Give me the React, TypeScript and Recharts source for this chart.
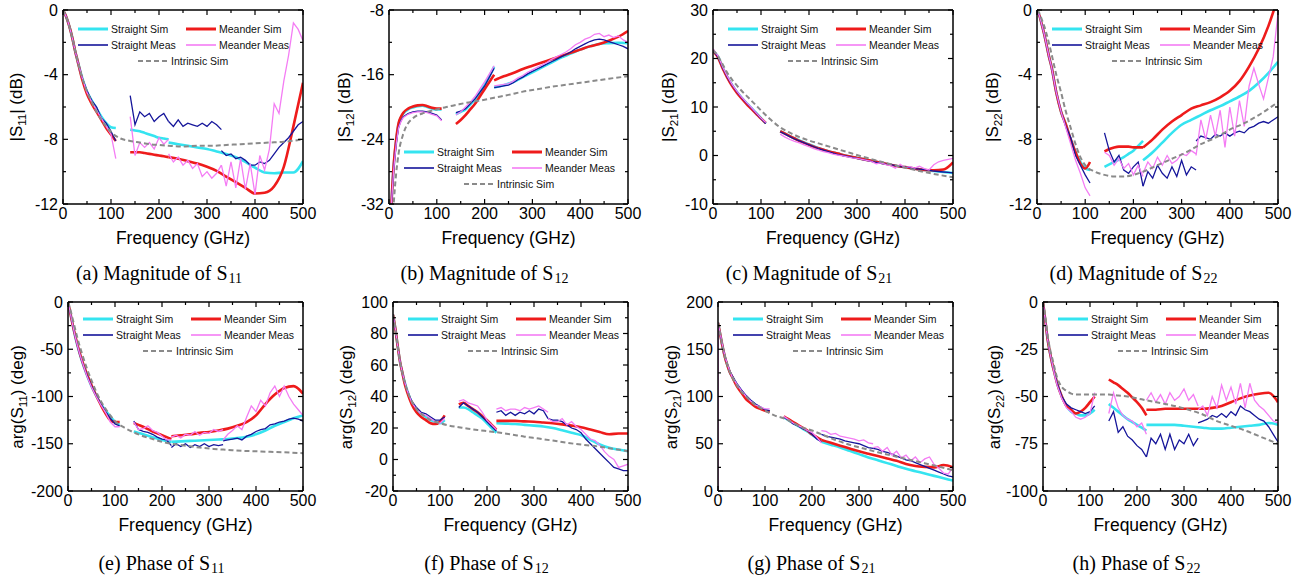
import React from "react";
import { LineChart, Line, XAxis, YAxis, ReferenceLine } from "recharts";

const SANS = '"Liberation Sans", Arial, Helvetica, sans-serif';
const SERIF = '"Liberation Serif", "Times New Roman", Times, serif';

// frequency grids (GHz)
const F_LOW = [0, 5, 10, 15, 20, 25, 30, 40, 50, 60, 70, 80, 90, 100, 110];
const F_MID = [140, 150, 160, 170, 180, 190, 200, 210, 220];
const F_HIGH = [220, 240, 260, 280, 300, 320, 340, 360, 380, 400, 420, 440, 460, 480, 500];
const F_M3 = [220, 230, 240, 250, 260, 270, 280, 290, 300, 310, 320, 330];
const F_M4 = [330, 340, 350, 360, 370, 380, 390, 400, 410, 420, 430, 440, 450, 460, 470, 480, 490, 500];
const F_INT = [0, 5, 10, 15, 20, 30, 40, 50, 60, 70, 80, 90, 100, 120, 140, 160, 180, 200, 220, 250, 280, 310, 340, 370, 400, 430, 460, 500];
const F_SPIKE = [0, 0.6];

const X_TICKS = [0, 50, 100, 150, 200, 250, 300, 350, 400, 450, 500];

type Vals = (number | null)[];
type Sim = { low: Vals; mid: Vals; high: Vals };
type Meas = { low: Vals; mid: Vals; m3: Vals; m4: Vals; spike?: Vals };

// (a) |S11| dB
const A_SS: Sim = {
  low: [0, -0.3, -0.7, -1.2, -1.8, -2.5, -3.1, -4.2, -5.05, -5.6, -6.1, -6.6, -7.0, -7.25, -7.3],
  mid: [-7.4, -7.45, -7.5, -7.6, -7.7, -7.8, -7.9, -7.95, -8.0],
  high: [-8.2, -8.3, -8.4, -8.5, -8.6, -8.75, -8.9, -9.1, -9.4, -9.75, -10.05, -10.1, -10.05, -10.05, -9.35],
};
const A_MS: Sim = {
  low: [0, -0.3, -0.7, -1.2, -1.8, -2.5, -3.1, -4.3, -5.2, -5.8, -6.3, -6.8, -7.3, -7.7, -8.1],
  mid: [-8.8, -8.8, -8.8, -8.85, -8.9, -8.95, -9.0, -9.05, -9.1],
  high: [-9.1, -9.2, -9.35, -9.5, -9.7, -9.95, -10.3, -10.65, -11.0, -11.35, -11.3, -10.9, -9.7, -7.2, -4.5],
};
const A_SM: Meas = {
  low: [0, -0.3, -0.7, -1.2, -1.8, -2.5, -3.1, -4.2, -5.0, -5.6, -6.0, -6.7, -7.0, -7.5, -8.1],
  mid: [-5.3, -7.1, -6.3, -6.6, -6.4, -6.9, -6.6, -6.4, -6.9],
  m3: [-6.9, -7.2, -6.8, -7.2, -7.0, -7.1, -7.2, -7.0, -7.2, -6.9, -7.1, -7.4],
  m4: [-8.7, -9.0, -8.9, -9.2, -9.1, -9.3, -9.6, -9.6, -9.4, -9.5, -9.3, -8.9, -8.5, -8.2, -7.9, -7.5, -7.1, -6.9],
};
const A_MM: Meas = {
  low: [0, -0.3, -0.7, -1.2, -1.8, -2.5, -3.1, -4.2, -5.1, -5.7, -6.2, -6.7, -7.2, -7.7, -9.2],
  mid: [-6.6, -9.0, -8.2, -8.5, -8.2, -8.6, -7.9, -8.3, -8.0],
  m3: [-8.9, -9.4, -9.1, -9.6, -9.3, -9.8, -9.5, -10.3, -10.0, -10.4, -10.1, -9.6],
  m4: [-9.6, -10.9, -9.4, -11.0, -9.2, -11.1, -9.5, -11.4, -9.0, -9.9, -8.6, -5.8, -6.4, -4.4, -2.8, -0.8, -1.2, -1.9],
};
const A_INT: Vals = [0, -0.3, -0.7, -1.2, -1.8, -3.1, -4.2, -5.05, -5.7, -6.3, -6.8, -7.2, -7.55, -7.95, -8.1, -8.2, -8.3, -8.35, -8.4, -8.45, -8.4, -8.4, -8.35, -8.3, -8.25, -8.2, -8.15, -8.0];

// (b) |S12| dB
const B_SS: Sim = {
  low: [null, -32, -27.2, -24.2, -22.2, -21.3, -20.8, -20.3, -20.05, -19.9, -19.85, -20.0, -20.2, -20.3, -20.3],
  mid: [-20.9, -20.6, -20.3, -19.7, -19.0, -18.2, -17.3, -16.2, -15.0],
  high: [-17.6, -17.3, -16.9, -16.3, -15.7, -15.1, -14.5, -13.9, -13.4, -12.9, -12.5, -12.2, -12.1, -12.05, -12.1],
};
const B_MS: Sim = {
  low: [null, -32, -27, -24, -22, -21.2, -20.7, -20.2, -19.95, -19.8, -19.75, -19.9, -20.1, -20.2, -20.2],
  mid: [-22.1, -21.6, -21.0, -20.3, -19.6, -18.7, -17.8, -16.9, -16.0],
  high: [-16.7, -16.2, -15.8, -15.3, -14.9, -14.5, -14.1, -13.7, -13.3, -12.9, -12.5, -12.2, -11.8, -11.3, -10.6],
};
const B_SM: Meas = {
  low: [null, -32, -27.5, -24.5, -22.5, -21.7, -21.2, -20.8, -20.6, -20.5, -20.5, -20.6, -20.8, -21.0, -21.6],
  mid: [-20.7, -20.5, -20.2, -19.6, -19.0, -18.2, -17.4, -16.3, -15.2],
  m3: [-17.6, -17.5, -17.4, -17.3, -17.0, -16.6, -16.3, -15.9, -15.6, -15.3, -15.0, -14.7],
  m4: [-14.7, -14.4, -14.1, -13.8, -13.5, -13.2, -12.8, -12.5, -12.2, -11.9, -11.7, -11.6, -11.7, -11.9, -12.1, -12.3, -12.5, -12.8],
};
const B_MM: Meas = {
  low: [null, -32, -27.6, -24.6, -22.6, -21.8, -21.3, -20.9, -20.7, -20.6, -20.6, -20.7, -20.9, -21.1, -21.7],
  mid: [-21.0, -20.6, -20.0, -19.4, -18.7, -17.8, -16.9, -15.9, -14.9],
  m3: [-17.4, -17.3, -17.2, -17.1, -16.8, -16.4, -16.1, -15.7, -15.4, -15.1, -14.8, -14.5],
  m4: [-14.5, -14.1, -13.8, -13.5, -13.2, -12.8, -12.3, -12.0, -11.6, -11.4, -11.0, -10.9, -11.3, -11.1, -11.4, -11.2, -11.7, -12.0],
};
const B_INT: Vals = [null, null, -31.8, -28.2, -25.8, -23.3, -22.0, -21.4, -21.0, -20.8, -20.6, -20.45, -20.3, -20.0, -19.75, -19.5, -19.3, -19.1, -18.85, -18.5, -18.1, -17.8, -17.5, -17.25, -17.0, -16.75, -16.5, -16.2];

// (c) |S21| dB
const C_SS: Sim = {
  low: [21.7, 21.1, 20.5, 19.4, 18.2, 17.2, 16.2, 14.5, 13.1, 11.9, 10.8, 9.8, 8.8, 7.7, 6.6],
  mid: [5.0, 4.5, 4.0, 3.5, 3.1, 2.7, 2.3, 1.9, 1.5],
  high: [1.5, 0.9, 0.4, -0.1, -0.5, -0.9, -1.3, -1.7, -2.1, -2.4, -2.7, -3.0, -3.2, -3.4, -3.6],
};
const C_MS: Sim = {
  low: [21.7, 21.0, 20.3, 19.2, 18.0, 17.0, 16.0, 14.3, 12.9, 11.7, 10.6, 9.6, 8.6, 7.6, 6.7],
  mid: [5.0, 4.5, 4.0, 3.5, 3.0, 2.6, 2.2, 1.8, 1.5],
  high: [1.5, 0.9, 0.4, -0.1, -0.5, -0.9, -1.3, -1.7, -2.1, -2.4, -2.7, -3.0, -3.05, -2.9, -1.4],
};
const C_SM: Meas = {
  low: [21.6, 21.0, 20.4, 19.3, 18.1, 17.1, 16.1, 14.5, 13.1, 11.9, 10.8, 9.8, 8.7, 7.6, 6.6],
  mid: [4.9, 4.4, 3.9, 3.4, 3.0, 2.6, 2.2, 1.8, 1.4],
  m3: [1.4, 1.1, 0.8, 0.5, 0.2, 0.0, -0.2, -0.4, -0.6, -0.8, -1.0, -1.2],
  m4: [-1.2, -1.4, -1.6, -1.8, -1.9, -2.1, -2.3, -2.4, -2.5, -2.7, -2.8, -2.9, -3.0, -3.2, -3.3, -3.4, -3.5, -3.6],
};
const C_MM: Meas = {
  low: [22.0, 21.3, 20.6, 19.5, 18.3, 17.3, 16.3, 14.6, 13.2, 12.0, 10.9, 9.9, 8.8, 7.7, 6.8],
  mid: [4.4, 3.8, 3.3, 2.9, 2.6, 2.2, 1.8, 1.4, 1.1],
  m3: [1.1, 0.8, 0.6, 0.3, 0.1, -0.1, -0.3, -0.5, -0.6, -0.8, -1.0, -1.2],
  m4: [-1.2, -1.7, -1.5, -1.9, -2.1, -2.6, -1.8, -2.5, -2.3, -2.6, -2.2, -2.7, -3.0, -1.9, -1.3, -1.0, -0.8, -0.6],
};
const C_INT: Vals = [21.7, 21.2, 20.6, 19.7, 18.8, 17.0, 15.6, 14.4, 13.3, 12.3, 11.3, 10.3, 9.3, 7.4, 5.8, 4.7, 3.8, 3.1, 2.5, 1.6, 0.7, -0.2, -1.0, -1.8, -2.5, -3.2, -3.8, -4.5];

// (d) |S22| dB
const D_SS: Sim = {
  low: [0, -0.35, -0.9, -1.5, -2.2, -2.9, -3.5, -5.1, -6.3, -7.1, -8.0, -8.8, -9.4, -9.8, -9.9],
  mid: [-9.7, -9.55, -9.4, -9.25, -9.1, -8.9, -8.7, -8.4, -8.1],
  high: [-9.3, -8.8, -8.2, -7.6, -7.1, -6.8, -6.5, -6.2, -5.95, -5.65, -5.35, -5.0, -4.5, -3.9, -3.2],
};
const D_MS: Sim = {
  low: [0, -0.35, -0.9, -1.5, -2.2, -2.9, -3.5, -5.1, -6.3, -7.1, -8.0, -8.8, -9.5, -9.8, -9.4],
  mid: [-8.75, -8.6, -8.5, -8.45, -8.45, -8.45, -8.5, -8.5, -8.5],
  high: [-8.5, -8.0, -7.4, -6.9, -6.5, -6.1, -5.9, -5.7, -5.4, -5.0, -4.4, -3.5, -2.4, -1.0, 0.8],
};
const D_SM: Meas = {
  low: [0, -0.35, -0.9, -1.5, -2.2, -2.9, -3.5, -5.1, -6.3, -7.2, -7.9, -9.0, -9.6, -10.2, -10.7],
  mid: [-7.6, -8.7, -9.4, -9.0, -9.9, -10.1, -9.7, -9.4, -10.9],
  m3: [-10.9, -10.0, -10.4, -9.6, -10.1, -10.4, -9.7, -10.3, -9.3, -10.2, -9.7, -9.9],
  m4: [-8.1, -7.8, -7.9, -8.0, -7.7, -7.8, -7.6, -7.8, -7.6, -7.5, -7.6, -7.3, -7.2, -7.0, -6.9, -7.0, -6.8, -6.6],
};
const D_MM: Meas = {
  low: [0, -0.35, -0.9, -1.5, -2.2, -2.9, -3.5, -5.1, -6.3, -7.3, -8.3, -9.3, -10.1, -11.0, -11.5],
  mid: [-8.8, -9.0, -9.6, -9.2, -9.8, -9.5, -10.2, -9.6, -10.3],
  m3: [-10.1, -9.4, -9.8, -9.1, -9.6, -9.0, -9.5, -9.3, -8.9, -9.0, -8.7, -8.9],
  m4: [-9.0, -6.8, -8.0, -6.5, -7.8, -6.2, -8.5, -6.0, -7.8, -5.6, -7.2, -4.7, -3.6, -4.6, -5.5, -4.2, -2.9, -0.2],
};
const D_INT: Vals = [0, -0.2, -0.6, -1.0, -1.5, -2.7, -4.0, -5.1, -6.3, -7.3, -8.3, -9.1, -9.6, -10.0, -10.2, -10.3, -10.3, -10.2, -10.0, -9.6, -9.2, -8.8, -8.3, -7.9, -7.4, -7.0, -6.5, -5.7];

// (e) arg(S11) deg
const E_SS: Sim = {
  low: [0, -12, -24, -36, -46, -55, -63, -77, -89, -99, -108, -115, -121, -127, -130],
  mid: [-137, -138.5, -140, -141.5, -143, -144.5, -146, -147, -148],
  high: [-148, -147.5, -147, -146.5, -146, -145.5, -145, -144, -142.5, -140, -136, -131, -127, -123, -120],
};
const E_MS: Sim = {
  low: [0, -12, -24, -35, -45, -54, -62, -76, -88, -99, -109, -118, -125, -127, -127],
  mid: [-128, -130, -132, -134.5, -137, -139, -141, -143, -145],
  high: [-142, -141, -140, -138.5, -137.5, -136, -134, -131, -127, -120, -108, -98, -91, -89, -97],
};
const E_SM: Meas = {
  low: [0, -12, -24, -36, -46, -55, -63, -77, -89, -99, -108, -116, -123, -129, -131],
  mid: [-126, -135, -137, -138, -140, -143, -145, -146, -152],
  m3: [-154, -150, -153, -150, -154, -151, -153, -150, -153, -151, -152, -151],
  m4: [-147, -146, -145, -144, -146, -142, -140, -137, -135, -134, -130, -129, -127, -126, -124, -123, -124, -126],
};
const E_MM: Meas = {
  low: [0, -12, -24, -36, -46, -55, -63, -78, -90, -100, -109, -117, -127, -132, -132],
  mid: [-127, -135, -134, -131, -136, -138, -142, -146, -146],
  m3: [-143, -141, -144, -140, -141, -137, -141, -138, -139, -135, -137, -135],
  m4: [-146, -140, -136, -131, -135, -122, -110, -116, -104, -110, -96, -89, -100, -89, -100, -108, -114, -120],
};
const E_INT: Vals = [0, -8, -18, -28, -38, -55, -70, -83, -95, -105, -113, -120, -126, -133, -138, -142, -145, -148, -150, -152, -154, -155.5, -156.5, -157.5, -158, -158.5, -159, -160];

// (f) arg(S12) deg
const F_SS: Sim = {
  low: [92, 83, 72, 62, 55, 49, 44, 36, 32, 29, 27, 25, 24, 23, 25],
  mid: [33, 33, 32, 30, 28, 26, 23, 20, 17],
  high: [23, 22.8, 22.5, 22, 21.5, 21, 20, 18.5, 17, 15.5, 12.5, 9.5, 7.5, 6.3, 5.3],
};
const F_MS: Sim = {
  low: [92, 83, 72, 62, 55, 48, 43, 35, 30, 27, 25, 23, 22.5, 24, 28],
  mid: [35, 36, 34, 32, 30, 27.5, 25, 22, 19],
  high: [24.5, 24.5, 24.5, 24.2, 24, 23.5, 23, 22.3, 21.5, 20.5, 19, 17.5, 16, 16.5, 16.5],
};
const F_SM: Meas = {
  low: [92, 83, 72, 62, 55, 49, 44, 37, 33, 30, 29, 27, 25, 25, 27],
  mid: [33, 36, 34, 32, 30, 27, 24, 21, 18],
  m3: [30, 31, 28, 30, 28, 30, 29, 31, 29, 32, 31, 26],
  m4: [26, 25, 25, 24, 22, 20, 19, 17, 13, 10, 7, 4, 1, -2, -5, -6, -7, -7],
};
const F_MM: Meas = {
  low: [92, 83, 72, 62, 55, 49, 44, 36, 32, 29, 28, 26, 24, 23, 26],
  mid: [37, 38, 36, 35, 34, 30, 25, 22, 19],
  m3: [32, 33, 31, 32, 32, 31, 33, 32, 33, 34, 32, 30],
  m4: [26, 24, 24, 26, 22, 24, 21, 19, 16, 13, 12, 9, 5, 2, 0, -5, -4, -3],
};
const F_INTR: Vals = [92, 83, 72, 62, 55, 44, 37, 32, 29, 27, 25, 24, 23, 21.5, 20.5, 19.5, 18.7, 18, 17.3, 16, 14.5, 13.3, 12, 10.6, 9.5, 8.5, 7.2, 5.3];

// (g) arg(S21) deg
const G_SS: Sim = {
  low: [178, 165, 152, 141, 133, 126, 121, 112, 105, 99, 95, 91, 88, 86, 84],
  mid: [78, 75, 72, 69, 66, 63, 59.5, 56, 53],
  high: [52, 49, 46, 42.5, 39, 35.5, 32.5, 29.5, 26.5, 23.5, 21, 18.5, 16, 13.5, 11],
};
const G_MS: Sim = {
  low: [178, 165, 152, 141, 133, 126, 121, 111, 104, 97, 93, 89, 87, 85, 84],
  mid: [79, 76, 73, 70, 67, 64, 60, 57, 54],
  high: [54, 51, 48, 45, 42, 39.5, 37, 34.5, 32, 28.5, 26.5, 25.5, 25, 27.5, 25],
};
const G_SM: Meas = {
  low: [178, 165, 153, 142, 134, 127, 122, 114, 107, 101, 96, 92, 89, 86, 85],
  mid: [78, 75, 71, 69, 66, 64, 60, 55, 52],
  m3: [60, 58, 57, 56, 55, 53, 52, 51, 50, 48, 46, 45],
  m4: [45, 44, 42, 41, 39, 37, 35, 33, 32, 30, 28, 26, 24, 22, 20, 18, 16, 15],
};
const G_MM: Meas = {
  spike: [0, 178],
  low: [178, 166, 153, 142, 134, 127, 121, 113, 106, 100, 95, 91, 89, 87, 87],
  mid: [79, 75.5, 72, 69.5, 67, 64, 62, 57, 51],
  m3: [64, 63, 60, 61, 58, 57, 56, 55, 53, 54, 51, 50],
  m4: [46, 47, 42, 46, 38, 42, 35, 38, 32, 36, 30, 34, 36, 28, 24, 19, 18, 25],
};
const G_INT: Vals = [178, 165, 152, 142, 133, 121, 112, 105, 100, 95, 91, 88, 85, 80, 77, 72, 67, 64, 60, 54, 49, 45, 41, 37.5, 34, 30.5, 27, 22];

// (h) arg(S22) deg
const H_SS: Sim = {
  low: [0, -10, -20, -27, -33, -38, -43, -50, -55, -58, -59, -60, -60, -59, -57],
  mid: [-54, -56, -58, -60, -62, -63.5, -65, -66.5, -68],
  high: [-65, -65, -65, -65, -65.5, -66, -66.5, -67, -67, -66.5, -66, -65.5, -65, -64, -65],
};
const H_MS: Sim = {
  low: [0, -10, -20, -27, -33, -38, -43, -50, -55, -57, -59, -58, -56, -53, -50],
  mid: [-41, -42.5, -44, -46, -48, -50.5, -53, -56, -60],
  high: [-57, -57, -56.5, -56.5, -56.5, -56.5, -56.5, -56, -55, -53, -51, -49.5, -48.5, -48, -53],
};
const H_SM: Meas = {
  low: [0, -10, -20, -27, -33, -38, -43, -50, -54, -56, -57, -58, -59, -58, -55],
  mid: [-63, -58, -69, -66, -71, -73, -76, -78, -82],
  m3: [-82, -72, -75, -70, -78, -70, -78, -73, -75, -70, -76, -72],
  m4: [-64, -63, -62, -60, -61, -59, -61, -58, -60, -55, -57, -58, -60, -62, -63, -66, -70, -74],
};
const H_MM: Meas = {
  low: [0, -10, -20, -27, -33, -39, -44, -51, -56, -58, -61, -62, -61, -59, -48],
  mid: [-59, -48, -56, -60, -62, -63, -66, -64, -70],
  m3: [-52, -48, -53, -49, -54, -48, -52, -50, -46, -52, -49, -55],
  m4: [-57, -55, -60, -50, -56, -44, -52, -45, -54, -43, -56, -43, -52, -55, -57, -60, -63, -64],
};
const H_INT: Vals = [0, -8, -18, -25, -30, -40, -45, -47, -48.5, -49, -49, -49, -49, -49, -49, -49.5, -50, -51, -52, -53.5, -55, -57, -59.5, -63, -65.5, -68, -71, -75];

// y ticks
const Y_MAJ_DB12 = [-12, -8, -4, 0];
const Y_MIN_DB12 = [-10, -6, -2];
const Y_MAJ_S12 = [-32, -24, -16, -8];
const Y_MIN_S12 = [-28, -20, -12];
const Y_MAJ_S21 = [-10, 0, 10, 20, 30];
const Y_MIN_S21 = [-5, 5, 15, 25];
const Y_MAJ_P11 = [-200, -150, -100, -50, 0];
const Y_MIN_P11 = [-175, -125, -75, -25];
const Y_MAJ_P12 = [-20, 0, 20, 40, 60, 80, 100];
const Y_MIN_P12 = [-10, 10, 30, 50, 70, 90];
const Y_MAJ_P21 = [0, 50, 100, 150, 200];
const Y_MIN_P21 = [25, 75, 125, 175];
const Y_MAJ_P22 = [-100, -75, -50, -25, 0];
const Y_MIN_P22 = [-87.5, -62.5, -37.5, -12.5];

const STYLES: Record<string, { color: string; w: number; type: "monotone" | "linear"; dash?: string; lw: number }> = {
  ss: { color: "#35e4f0", w: 2.6, type: "monotone", lw: 3 },
  ms: { color: "#ee1b1b", w: 2.6, type: "monotone", lw: 3 },
  sm: { color: "#15159a", w: 1.3, type: "linear", lw: 1.6 },
  mm: { color: "#f47cf4", w: 1.3, type: "linear", lw: 1.6 },
  intr: { color: "#8a8a8a", w: 2, type: "monotone", dash: "5 3", lw: 2 },
};

const LEGEND_ITEMS = [
  { key: "ss", label: "Straight Sim", dx: 15, row: 0 },
  { key: "ms", label: "Meander Sim", dx: 123, row: 0 },
  { key: "sm", label: "Straight Meas", dx: 15, row: 1 },
  { key: "mm", label: "Meander Meas", dx: 123, row: 1 },
  { key: "intr", label: "Intrinsic Sim", dx: 75, row: 2 },
];
const ROW_DY = [0, 15.5, 32];

type PanelDef = {
  id: string;
  left: number;
  top: number;
  width: number;
  height: number;
  yDomain: [number, number];
  yMajor: number[];
  yMinor: number[];
  yLabel: [string, string, string];
  labelDx: number;
  caption: [string, string];
  legendY: number;
  ss: Sim;
  ms: Sim;
  sm: Meas;
  mm: Meas;
  intr: Vals;
};

const MAG_TOP = 10;
const MAG_H = 194;
const PH_TOP = 302;
const PH_H = 189;

const PANELS: PanelDef[] = [
  { id: "a", left: 63, top: MAG_TOP, width: 240, height: MAG_H, yDomain: [-12, 0], yMajor: Y_MAJ_DB12, yMinor: Y_MIN_DB12, yLabel: ["|S", "11", "| (dB)"], labelDx: 46, caption: ["(a) Magnitude of S", "11"], legendY: 19, ss: A_SS, ms: A_MS, sm: A_SM, mm: A_MM, intr: A_INT },
  { id: "b", left: 389, top: MAG_TOP, width: 239, height: MAG_H, yDomain: [-32, -8], yMajor: Y_MAJ_S12, yMinor: Y_MIN_S12, yLabel: ["|S", "12", "| (dB)"], labelDx: 44, caption: ["(b) Magnitude of S", "12"], legendY: 142, ss: B_SS, ms: B_MS, sm: B_SM, mm: B_MM, intr: B_INT },
  { id: "c", left: 713, top: MAG_TOP, width: 240, height: MAG_H, yDomain: [-10, 30], yMajor: Y_MAJ_S21, yMinor: Y_MIN_S21, yLabel: ["|S", "21", "| (dB)"], labelDx: 44, caption: ["(c) Magnitude of S", "21"], legendY: 19, ss: C_SS, ms: C_MS, sm: C_SM, mm: C_MM, intr: C_INT },
  { id: "d", left: 1037, top: MAG_TOP, width: 241, height: MAG_H, yDomain: [-12, 0], yMajor: Y_MAJ_DB12, yMinor: Y_MIN_DB12, yLabel: ["|S", "22", "| (dB)"], labelDx: 44, caption: ["(d) Magnitude of S", "22"], legendY: 19, ss: D_SS, ms: D_MS, sm: D_SM, mm: D_MM, intr: D_INT },
  { id: "e", left: 68, top: PH_TOP, width: 235, height: PH_H, yDomain: [-200, 0], yMajor: Y_MAJ_P11, yMinor: Y_MIN_P11, yLabel: ["arg(S", "11", ") (deg)"], labelDx: 50, caption: ["(e) Phase of S", "11"], legendY: 17, ss: E_SS, ms: E_MS, sm: E_SM, mm: E_MM, intr: E_INT },
  { id: "f", left: 393, top: PH_TOP, width: 235, height: PH_H, yDomain: [-20, 100], yMajor: Y_MAJ_P12, yMinor: Y_MIN_P12, yLabel: ["arg(S", "12", ") (deg)"], labelDx: 46, caption: ["(f) Phase of S", "12"], legendY: 17, ss: F_SS, ms: F_MS, sm: F_SM, mm: F_MM, intr: F_INTR },
  { id: "g", left: 718, top: PH_TOP, width: 235, height: PH_H, yDomain: [0, 200], yMajor: Y_MAJ_P21, yMinor: Y_MIN_P21, yLabel: ["arg(S", "21", ") (deg)"], labelDx: 46, caption: ["(g) Phase of S", "21"], legendY: 17, ss: G_SS, ms: G_MS, sm: G_SM, mm: G_MM, intr: G_INT },
  { id: "h", left: 1043, top: PH_TOP, width: 235, height: PH_H, yDomain: [-100, 0], yMajor: Y_MAJ_P22, yMinor: Y_MIN_P22, yLabel: ["arg(S", "22", ") (deg)"], labelDx: 48, caption: ["(h) Phase of S", "22"], legendY: 17, ss: H_SS, ms: H_MS, sm: H_SM, mm: H_MM, intr: H_INT },
];

const seg = (f: number[], v: Vals) => f.map((x, i) => ({ f: x, v: v[i] ?? null }));

function XTick(props: any) {
  const { x, y, payload, plotH } = props;
  const v = payload.value;
  const major = v % 100 === 0;
  const len = major ? 5 : 3;
  return (
    <g>
      <line x1={x} x2={x} y1={y} y2={y - len} stroke="#000" strokeWidth={1.2} />
      <line x1={x} x2={x} y1={y - plotH} y2={y - plotH + len} stroke="#000" strokeWidth={1.2} />
      {major && (
        <text x={x} y={y + 15} textAnchor="middle" fontSize={16} fontFamily={SANS} fill="#000">
          {v}
        </text>
      )}
    </g>
  );
}

function YTick(props: any) {
  const { x, y, payload, plotW, majors } = props;
  const v = payload.value;
  const major = majors.includes(v);
  const len = major ? 5 : 3;
  return (
    <g>
      <line x1={x} x2={x + len} y1={y} y2={y} stroke="#000" strokeWidth={1.2} />
      <line x1={x + plotW} x2={x + plotW - len} y1={y} y2={y} stroke="#000" strokeWidth={1.2} />
      {major && (
        <text x={x - 5} y={y + 5.5} textAnchor="end" fontSize={16} fontFamily={SANS} fill="#000">
          {v}
        </text>
      )}
    </g>
  );
}

function Panel({ d }: { d: PanelDef }) {
  const { left: L, top: T, width: W, height: H } = d;
  const ticks = [...d.yMajor, ...d.yMinor].sort((a, b) => a - b);

  const lines: React.ReactElement[] = [];
  const push = (id: string, f: number[], v: Vals, k: string) => {
    const st = STYLES[k];
    lines.push(
      <Line
        key={id}
        data={seg(f, v)}
        dataKey="v"
        type={st.type}
        stroke={st.color}
        strokeWidth={st.w}
        strokeDasharray={st.dash}
        dot={false}
        activeDot={false}
        connectNulls={false}
        isAnimationActive={false}
      />
    );
  };
  const addSim = (k: string, s: Sim) => {
    push(k + "-low", F_LOW, s.low, k);
    push(k + "-mid", F_MID, s.mid, k);
    push(k + "-high", F_HIGH, s.high, k);
  };
  const addMeas = (k: string, s: Meas) => {
    if (s.spike) push(k + "-spike", F_SPIKE, s.spike, k);
    push(k + "-low", F_LOW, s.low, k);
    push(k + "-mid", F_MID, s.mid, k);
    push(k + "-m3", F_M3, s.m3, k);
    push(k + "-m4", F_M4, s.m4, k);
  };
  addSim("ss", d.ss);
  addSim("ms", d.ms);
  addMeas("sm", d.sm);
  addMeas("mm", d.mm);
  push("intr", F_INT, d.intr, "intr");

  const cx = L + W / 2;
  const captionY = T < 100 ? 273 : 563;

  return (
    <>
      <div style={{ position: "absolute", left: L - 60, top: T - 10 }}>
        <LineChart width={W + 84} height={H + 50} margin={{ top: 10, right: 24, bottom: 0, left: 0 }}>
          <XAxis
            type="number"
            dataKey="f"
            domain={[0, 500]}
            ticks={X_TICKS}
            interval={0}
            allowDataOverflow
            tickLine={false}
            tickSize={0}
            tickMargin={0}
            height={40}
            axisLine={{ stroke: "#000", strokeWidth: 1.5 }}
            tick={<XTick plotH={H} />}
          />
          <YAxis
            type="number"
            domain={d.yDomain}
            ticks={ticks}
            interval={0}
            allowDataOverflow
            tickLine={false}
            tickSize={0}
            tickMargin={0}
            width={60}
            axisLine={{ stroke: "#000", strokeWidth: 1.5 }}
            tick={<YTick plotW={W} majors={d.yMajor} />}
          />
          {lines}
          <ReferenceLine y={d.yDomain[1]} stroke="#000" strokeWidth={1.5} ifOverflow="visible" />
          <ReferenceLine x={500} stroke="#000" strokeWidth={1.5} ifOverflow="visible" />
        </LineChart>
      </div>

      {/* legend */}
      {LEGEND_ITEMS.map((it) => {
        const st = STYLES[it.key];
        const y = T + d.legendY + ROW_DY[it.row];
        return (
          <div key={d.id + it.key} style={{ position: "absolute", left: L + it.dx, top: y - 7, height: 14, display: "flex", alignItems: "center" }}>
            <svg width={30} height={8} style={{ display: "block" }}>
              <line x1={0} x2={30} y1={4} y2={4} stroke={st.color} strokeWidth={st.lw} strokeDasharray={st.dash} />
            </svg>
            <span style={{ marginLeft: 3, fontFamily: SANS, fontSize: 10.5, lineHeight: "14px", color: "#111", whiteSpace: "nowrap" }}>{it.label}</span>
          </div>
        );
      })}

      {/* y axis title */}
      <div
        style={{
          position: "absolute",
          left: L - d.labelDx - 80,
          top: T + H / 2 - 11,
          width: 160,
          height: 22,
          lineHeight: "22px",
          textAlign: "center",
          transform: "rotate(-90deg)",
          fontFamily: SANS,
          fontSize: 17,
          color: "#000",
          whiteSpace: "nowrap",
        }}
      >
        {d.yLabel[0]}
        <span style={{ fontSize: 11.5, position: "relative", top: 4 }}>{d.yLabel[1]}</span>
        {d.yLabel[2]}
      </div>

      {/* x axis title */}
      <div style={{ position: "absolute", left: cx - 100, top: T + H + 23, width: 200, textAlign: "center", fontFamily: SANS, fontSize: 17.5, lineHeight: "22px", color: "#000" }}>
        Frequency (GHz)
      </div>

      {/* caption */}
      <div style={{ position: "absolute", left: cx - 24 - 130, top: captionY - 12, width: 260, textAlign: "center", fontFamily: SERIF, fontSize: 20, lineHeight: "24px", color: "#000", whiteSpace: "nowrap" }}>
        {d.caption[0]}
        <span style={{ fontSize: 14, position: "relative", top: 3, marginLeft: 1 }}>{d.caption[1]}</span>
      </div>
    </>
  );
}

export default function App() {
  return (
    <div style={{ position: "absolute", left: 0, top: 0, width: 1311, height: 578, background: "#fff", overflow: "hidden" }}>
      {PANELS.map((d) => (
        <Panel key={d.id} d={d} />
      ))}
    </div>
  );
}
